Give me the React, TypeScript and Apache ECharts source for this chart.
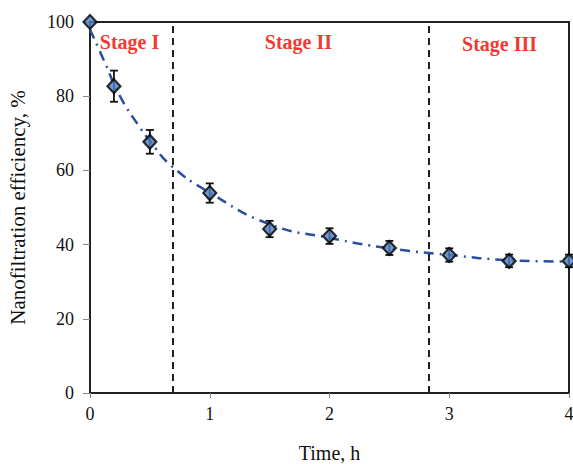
import React, { useEffect, useRef } from "react";
import * as echarts from "echarts";

const times = [0, 0.2, 0.5, 1, 1.5, 2, 2.5, 3, 3.5, 4];
const efficiency = [100, 82.7, 67.7, 53.9, 44.2, 42.3, 39.1, 37.2, 35.6, 35.6];
const errors = [0, 4.2, 3.2, 2.6, 2.2, 2.1, 1.9, 1.8, 1.7, 1.7];
const trendTimes = [0, 0.125, 0.25, 0.42, 0.5, 0.67, 1, 1.5, 2, 2.5, 3, 3.5, 4];
const trendValues = [98, 89, 80, 71.4, 68, 61.5, 54, 45.5, 41.8, 39, 37.2, 35.8, 35.4];
const stageBounds = [0.69, 2.83];
const stageLabels = ["Stage I", "Stage II", "Stage III"];
const stageLabelX = [0.33, 1.74, 3.42];
const xTicks = [0, 1, 2, 3, 4];

const FONT = "Liberation Serif";

export default function App() {
  const ref = useRef<HTMLDivElement>(null);
  useEffect(() => {
    document.body.style.margin = "0";
    if (!ref.current) return;
    const chart = echarts.init(ref.current, null, { renderer: "svg" });
    const points = times.map((t, i) => [t, efficiency[i]]);
    const errData = times.map((t, i) => [t, efficiency[i] - errors[i], efficiency[i] + errors[i]]);
    const trend = trendTimes.map((t, i) => [t, trendValues[i]]);
    chart.setOption({
      animation: false,
      grid: {
        left: 90,
        right: 4,
        top: 22,
        bottom: 71,
        show: true,
        borderColor: "#222",
        borderWidth: 2,
        containLabel: false,
        outerBoundsMode: "none",
      },
      xAxis: {
        type: "value",
        min: 0,
        max: 4,
        interval: 1,
        name: "Time, h",
        nameLocation: "middle",
        nameGap: 50,
        nameTextStyle: { fontFamily: FONT, fontSize: 20, color: "#111" },
        axisLine: { show: true, lineStyle: { color: "#222", width: 2 } },
        axisTick: { show: true, inside: false, length: 5, lineStyle: { color: "#888" } },
        axisLabel: {
          fontFamily: FONT,
          fontSize: 18,
          color: "#111",
          margin: 12,
          formatter: (v: number) => (xTicks.includes(v) ? String(v) : ""),
        },
        splitLine: { show: false },
      },
      yAxis: {
        type: "value",
        min: 0,
        max: 100,
        interval: 20,
        name: "Nanofiltration efficiency, %",
        nameLocation: "middle",
        nameGap: 62,
        nameTextStyle: { fontFamily: FONT, fontSize: 21, color: "#111" },
        axisLine: { show: true, lineStyle: { color: "#222", width: 2 } },
        axisTick: { show: true, inside: false, length: 7, lineStyle: { color: "#888" } },
        axisLabel: { fontFamily: FONT, fontSize: 18, color: "#111", margin: 16 },
        splitLine: { show: false },
      },
      series: [
        {
          type: "line",
          data: trend,
          smooth: true,
          symbol: "none",
          lineStyle: { color: "#2a4fa0", width: 2.5, type: [10, 6, 2, 6] },
          z: 2,
          markLine: {
            silent: true,
            symbol: "none",
            label: { show: false },
            lineStyle: { color: "#222", width: 2, type: [7, 5] },
            data: stageBounds.map((b) => ({ xAxis: b })),
          },
        },
        {
          type: "custom",
          data: errData,
          z: 3,
          renderItem: (params: any, api: any) => {
            const x = api.value(0);
            const lo = api.coord([x, api.value(1)]);
            const hi = api.coord([x, api.value(2)]);
            const cw = 4;
            const style = { stroke: "#111", lineWidth: 1.8 };
            if (api.value(2) - api.value(1) <= 0) return { type: "group", children: [] };
            return {
              type: "group",
              children: [
                { type: "line", shape: { x1: lo[0], y1: lo[1], x2: hi[0], y2: hi[1] }, style },
                { type: "line", shape: { x1: lo[0] - cw, y1: lo[1], x2: lo[0] + cw, y2: lo[1] }, style },
                { type: "line", shape: { x1: hi[0] - cw, y1: hi[1], x2: hi[0] + cw, y2: hi[1] }, style },
              ],
            };
          },
        },
        {
          type: "scatter",
          data: points,
          symbol: "diamond",
          symbolSize: [13, 14],
          clip: false,
          itemStyle: { color: "#4f7fc0", borderColor: "#000", borderWidth: 2.2 },
          z: 4,
          markPoint: {
            symbol: "rect",
            symbolSize: 1,
            itemStyle: { color: "transparent" },
            label: {
              show: true,
              fontFamily: FONT,
              fontWeight: "bold",
              fontSize: 20,
              color: "#f03a32",
              position: "inside",
            },
            data: stageLabels.map((s, i) => ({
              coord: [stageLabelX[i], i === 2 ? 94 : 94.5],
              value: s,
              label: { formatter: s },
            })),
          },
        },
      ],
    });
    return () => chart.dispose();
  }, []);
  return <div ref={ref} style={{ width: 573, height: 464 }} />;
}
